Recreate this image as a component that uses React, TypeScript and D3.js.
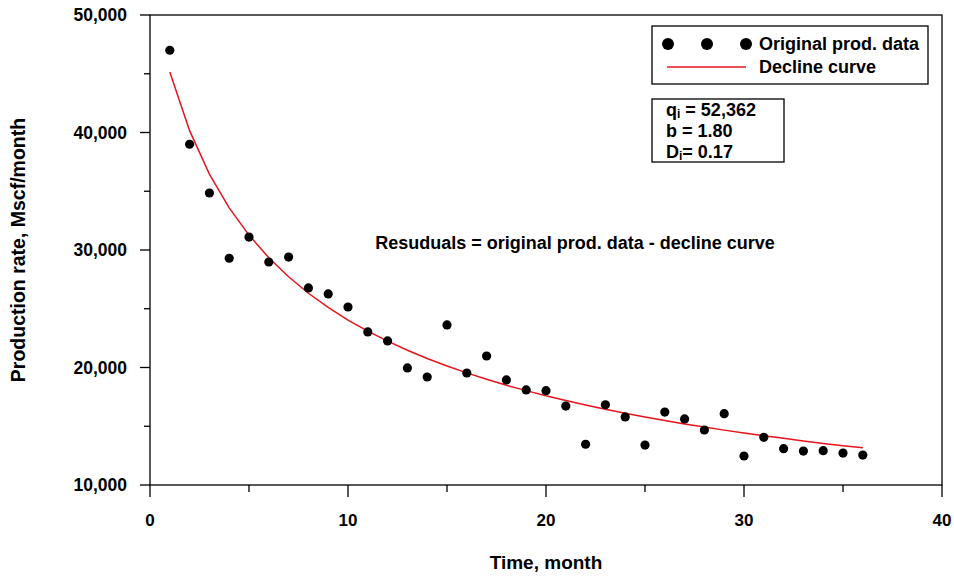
import React from "react";
import * as d3 from "d3";

const months = [1,2,3,4,5,6,7,8,9,10,11,12,13,14,15,16,17,18,19,20,21,22,23,24,25,26,27,28,29,30,31,32,33,34,35,36];
const production = [47000,39000,34850,29300,31100,28980,29400,26770,26260,25150,23030,22260,19960,19190,23620,19530,20980,18940,18090,18030,16720,13470,16830,15790,13400,16210,15620,14680,16070,12470,14060,13090,12890,12920,12720,12550];
const declineCurve = [45140,40160,36460,33590,31270,29340,27720,26320,25110,24040,23090,22240,21470,20770,20130,19540,19000,18490,18030,17590,17190,16810,16450,16110,15790,15490,15200,14930,14670,14430,14190,13970,13750,13540,13350,13160];
const xTicks = [0,10,20,30,40];
const xMinorTicks = [5,15,25,35];
const yTicks = [10000,20000,30000,40000,50000];
const yMinorTicks = [15000,25000,35000,45000];
const paramLines = [["q", "i", " = 52,362"], ["b = 1.80", "", ""], ["D", "i", "= 0.17"]];

const W = 954, H = 578;
const L = 150, R = 942, T = 15, B = 485;

export default function App() {
  const x = d3.scaleLinear().domain([0, 40]).range([L, R]);
  const y = d3.scaleLinear().domain([10000, 50000]).range([B, T]);
  const line = d3.line<number>().x((_, i) => x(months[i])).y(d => y(d));
  const fmt = d3.format(",");
  const font = "'Liberation Sans', Arial, sans-serif";
  return (
    <svg width={W} height={H} style={{ position: "absolute", left: 0, top: 0, background: "#fff" }} fontFamily={font}>
      <rect x={L} y={T} width={R - L} height={B - T} fill="none" stroke="#000" strokeWidth={1.3} />
      {xTicks.map(t => (
        <g key={"xt" + t}>
          <line x1={x(t)} x2={x(t)} y1={B} y2={B + 12} stroke="#000" strokeWidth={1.3} />
          <text x={x(t)} y={526} textAnchor="middle" fontSize={17} fontWeight="bold">{t}</text>
        </g>
      ))}
      {xMinorTicks.map(t => (
        <line key={"xm" + t} x1={x(t)} x2={x(t)} y1={B} y2={B + 7} stroke="#000" strokeWidth={1.3} />
      ))}
      {yTicks.map(t => (
        <g key={"yt" + t}>
          <line x1={L - 10} x2={L} y1={y(t)} y2={y(t)} stroke="#000" strokeWidth={1.3} />
          <text x={127} y={y(t) + 6} textAnchor="end" fontSize={17.5} fontWeight="bold">{fmt(t)}</text>
        </g>
      ))}
      {yMinorTicks.map(t => (
        <line key={"ym" + t} x1={L - 6} x2={L} y1={y(t)} y2={y(t)} stroke="#000" strokeWidth={1.3} />
      ))}
      <text x={546} y={569} textAnchor="middle" fontSize={19} fontWeight="bold">Time, month</text>
      <text transform={`translate(25,${250}) rotate(-90)`} textAnchor="middle" fontSize={19.5} fontWeight="bold">Production rate, Mscf/month</text>
      <path d={line(declineCurve) || ""} fill="none" stroke="#e8141c" strokeWidth={1.5} />
      {production.map((v, i) => (
        <circle key={"p" + i} cx={x(months[i])} cy={y(v)} r={4.6} fill="#000" />
      ))}
      <text x={575} y={249} textAnchor="middle" fontSize={18} fontWeight="bold">Resuduals = original prod. data - decline curve</text>
      <rect x={652} y={26} width={276} height={58} fill="#fff" stroke="#000" strokeWidth={1.3} />
      {[668, 707, 746].map(cx => <circle key={cx} cx={cx} cy={44} r={6} fill="#000" />)}
      <text x={759} y={50} fontSize={18} fontWeight="bold">Original prod. data</text>
      <line x1={667} x2={746} y1={67} y2={67} stroke="#e8141c" strokeWidth={1.5} />
      <text x={759} y={73} fontSize={18} fontWeight="bold">Decline curve</text>
      <rect x={652} y={99} width={132} height={63} fill="#fff" stroke="#000" strokeWidth={1.3} />
      {paramLines.map((p, i) => (
        <text key={i} x={666} y={116 + i * 21} fontSize={18} fontWeight="bold">
          {p[0]}{p[1] ? <tspan fontSize={12} dy={2}>{p[1]}</tspan> : null}{p[2] ? <tspan dy={p[1] ? -2 : 0}>{p[2]}</tspan> : null}
        </text>
      ))}
    </svg>
  );
}
